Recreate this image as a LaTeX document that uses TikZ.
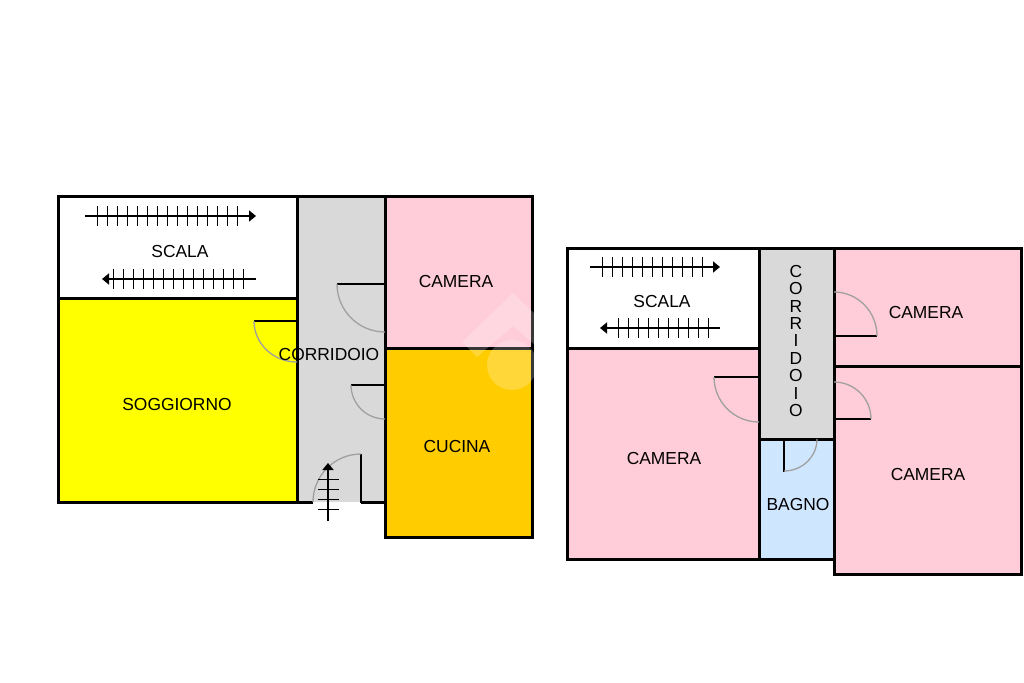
\documentclass[tikz,border=0pt]{standalone}
\usepackage{fontspec}
\setmainfont{Liberation Sans}
\usetikzlibrary{arrows.meta,calc}
\definecolor{roompink}{HTML}{FFCCD9}
\definecolor{roomyellow}{HTML}{FFFF00}
\definecolor{roomorange}{HTML}{FFCC00}
\definecolor{roomgray}{HTML}{D9D9D9}
\definecolor{roomblue}{HTML}{CFE6FF}
\definecolor{swing}{HTML}{A0A0A0}
\tikzset{
  room/.style={draw=black,line width=3pt,line join=miter},
  wall/.style={draw=black,line width=3pt},
  leaf/.style={draw=black,line width=2pt},
  swingarc/.style={draw=swing,line width=1.3pt},
  stair/.style={draw=black,line width=1.8pt,-{Triangle[length=7pt,width=11pt]}},
  tread/.style={draw=black,line width=1pt},
  lbl/.style={inner sep=0pt,text=black,font=\fontsize{17.4}{17.4}\selectfont},
}
\newcommand{\doorarc}[6]{\draw[swingarc] (#1,#2) .. controls ($(#1,#2)!.5523!(#5,#6)$) and ($(#3,#4)!.5523!(#5,#6)$) .. (#3,#4);}
\begin{document}
\begin{tikzpicture}[x=1pt,y=-1pt]
\useasboundingbox (0,0) rectangle (1024,682);
\fill[white] (0,0) rectangle (1024,682);
% first plan: fills
\fill[white] (58,196) rectangle (297,298);
\fill[roomyellow] (58,298) rectangle (297,502);
\fill[roomgray] (297,196) rectangle (385,502);
\fill[roompink] (385,196) rectangle (532,348);
\fill[roomorange] (385,348) rectangle (532,537);
% first plan: walls
\draw[room] (58,196) rectangle (297,298);
\draw[room] (58,298) rectangle (297,502);
\draw[room] (385,196) rectangle (532,348);
\draw[room] (385,348) rectangle (532,537);
\draw[wall] (297,196) -- (385,196);
\draw[wall] (297,502) -- (313,502);
\draw[wall] (361,502) -- (385,502);
\draw[leaf] (361,454) -- (361,503);
% first plan: doors
\draw[leaf] (254,321) -- (297,321);
\doorarc{254}{321}{297}{362}{254}{362}
\draw[leaf] (337,284) -- (385,284);
\doorarc{337}{284}{385}{332}{337}{332}
\draw[leaf] (351,385) -- (385,385);
\doorarc{351}{385}{385}{419}{351}{419}
\doorarc{361}{454}{313}{502}{313}{454}
% first plan: stairs
\draw[stair] (85,216) -- (256,216);
\foreach \i in {0,...,14} \draw[tread] ({97.5+10*\i},206) -- ({97.5+10*\i},226);
\draw[stair] (256,279) -- (102,279);
\foreach \i in {0,...,13} \draw[tread] ({113.5+10*\i},269) -- ({113.5+10*\i},289);
\draw[stair] (328,521) -- (328,463);
\foreach \y in {479.5,489.5,499.5,509.5} \draw[tread] (318,\y) -- (339,\y);
% second plan: fills
\fill[white] (567,248) rectangle (759,348);
\fill[roompink] (567,348) rectangle (759,559);
\fill[roomgray] (759,248) rectangle (834,439);
\fill[roomblue] (759,439) rectangle (834,559);
\fill[roompink] (834,248) rectangle (1021,366);
\fill[roompink] (834,366) rectangle (1021,574);
% second plan: walls
\draw[room] (567,248) rectangle (759,348);
\draw[room] (567,348) rectangle (759,559);
\draw[room] (759,248) rectangle (834,439);
\draw[room] (759,439) rectangle (834,559);
\draw[room] (834,248) rectangle (1021,366);
\draw[room] (834,366) rectangle (1021,574);
% second plan: doors
\draw[leaf] (714,377) -- (759,377);
\doorarc{714}{377}{759}{422}{714}{422}
\draw[leaf] (834,336) -- (877,336);
\doorarc{877}{336}{834}{292}{877}{292}
\draw[leaf] (834,419) -- (871,419);
\doorarc{871}{419}{834}{382}{871}{382}
\draw[leaf] (784,439) -- (784,472);
\doorarc{784}{471}{817}{439}{817}{471}
% second plan: stairs
\draw[stair] (590,267) -- (720,267);
\foreach \i in {0,...,10} \draw[tread] ({602.5+10*\i},257) -- ({602.5+10*\i},277);
\draw[stair] (720,328) -- (600,328);
\foreach \i in {0,...,9} \draw[tread] ({618.5+10*\i},318) -- ({618.5+10*\i},338);
% labels
\node[lbl] (scalaA) at (180,252) {SCALA};
\node[lbl] (cameraA) at (456,282) {CAMERA};
\node[lbl] (corrA) at (329,355) {CORRIDOIO};
\node[lbl] (sogg) at (177,405) {SOGGIORNO};
\node[lbl] (cucina) at (457,447) {CUCINA};
\node[lbl] (scalaB) at (662,302) {SCALA};
\node[lbl] (cameraB) at (926,313) {CAMERA};
\node[lbl] (cameraC) at (664,459) {CAMERA};
\node[lbl] (cameraD) at (928,475) {CAMERA};
\node[lbl] (bagno) at (798,505) {BAGNO};
\node[lbl,align=center] (corrB) at (796,341) {C\\O\\R\\R\\I\\D\\O\\I\\O};
% watermark
\begin{scope}
\clip (385,196) rectangle (534,537);
\fill[white,opacity=.22] (513,293) -- (564,342) -- (549,357) -- (513,326) -- (477,357) -- (462,342) -- cycle;
\fill[white,opacity=.22] (512,365) circle[radius=25];
\end{scope}
\end{tikzpicture}
\end{document}
